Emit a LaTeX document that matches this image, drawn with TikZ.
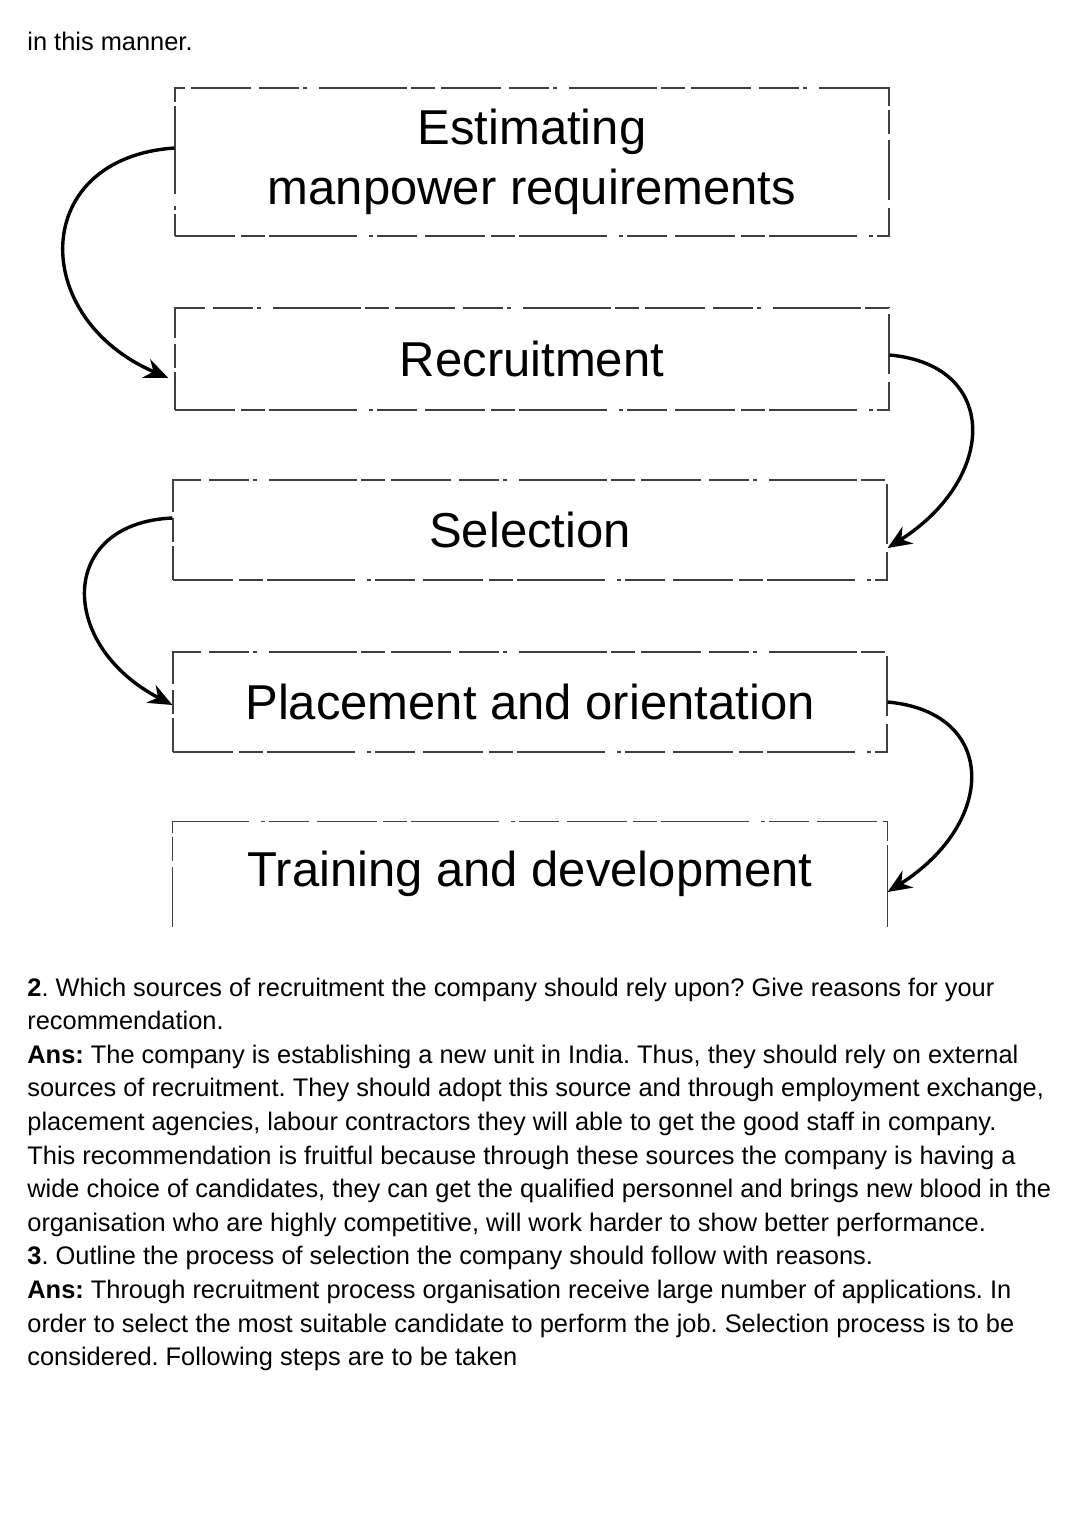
\documentclass[tikz,border=0pt]{standalone}
\usepackage{fontspec}
\setmainfont{Liberation Sans}
\usetikzlibrary{arrows.meta}
\frenchspacing
\tikzset{
  stepline/.style={draw=black!75, line width=0.6pt,
    dash pattern=on 30pt off 3pt on 12pt off 2pt on 44pt off 6pt on 2pt off 2pt on 20pt off 4pt},
  stepbox/.style={stepline, minimum width=357pt, inner sep=0pt, align=center,
    font=\fontsize{24.5}{30}\selectfont},
  flow/.style={line width=1.7pt, -{Stealth[length=12pt,width=10pt]}},
  body/.style={anchor=base west, inner sep=0pt, font=\fontsize{12.7}{16}\selectfont}
}

\begin{document}
\begin{tikzpicture}[x=0.5pt,y=-0.5pt]
\useasboundingbox (0,0) rectangle (1080,1527);
% lead-in line
\node[body] (lead) at (27,50) {in this manner.};
% process boxes
\node[stepbox, minimum height=74pt] (est) at (532,162) {Estimating\\manpower requirements};
\node[stepbox, minimum height=51pt] (rec) at (532,359) {Recruitment};
\node[stepbox, minimum height=50pt] (sel) at (530,530) {Selection};
\node[stepbox, minimum height=50pt] (pla) at (530,702) {Placement and orientation};
\node[stepbox, draw=none, minimum height=52pt] (tra) at (530,874) {Training and development};
% last box is open at the bottom
\draw[stepline] (tra.south west) -- (tra.north west) -- (tra.north east) -- (tra.south east);
% curved arrows between steps
\draw[flow] ([yshift=7pt]est.west) .. controls +(-145,10) and +(-140,-60) .. ([xshift=-3pt,yshift=-9.5pt]rec.west);
\draw[flow] ([yshift=2pt]rec.east) .. controls +(110,10) and +(110,-70) .. ([yshift=-9pt]sel.east);
\draw[flow] ([yshift=6pt]sel.west) .. controls +(-115,5) and +(-115,-60) .. ([yshift=-1.5pt]pla.west);
\draw[flow] (pla.east) .. controls +(110,10) and +(110,-70) .. ([yshift=-9pt]tra.east);
% answer text
\foreach \t [count=\i] in {
  {\textbf{2}. Which sources of recruitment the company should rely upon? Give reasons for your},
  {recommendation.},
  {\textbf{Ans:} The company is establishing a new unit in India. Thus, they should rely on external},
  {sources of recruitment. They should adopt this source and through employment exchange,},
  {placement agencies, labour contractors they will able to get the good staff in company.},
  {This recommendation is fruitful because through these sources the company is having a},
  {wide choice of candidates, they can get the qualified personnel and brings new blood in the},
  {organisation who are highly competitive, will work harder to show better performance.},
  {\textbf{3}. Outline the process of selection the company should follow with reasons.},
  {\textbf{Ans:} Through recruitment process organisation receive large number of applications. In},
  {order to select the most suitable candidate to perform the job. Selection process is to be},
  {considered. Following steps are to be taken}}{
    \node[body] (line\i) at (27,{996+(\i-1)*33.6}) {\t};
}
\end{tikzpicture}
\end{document}
